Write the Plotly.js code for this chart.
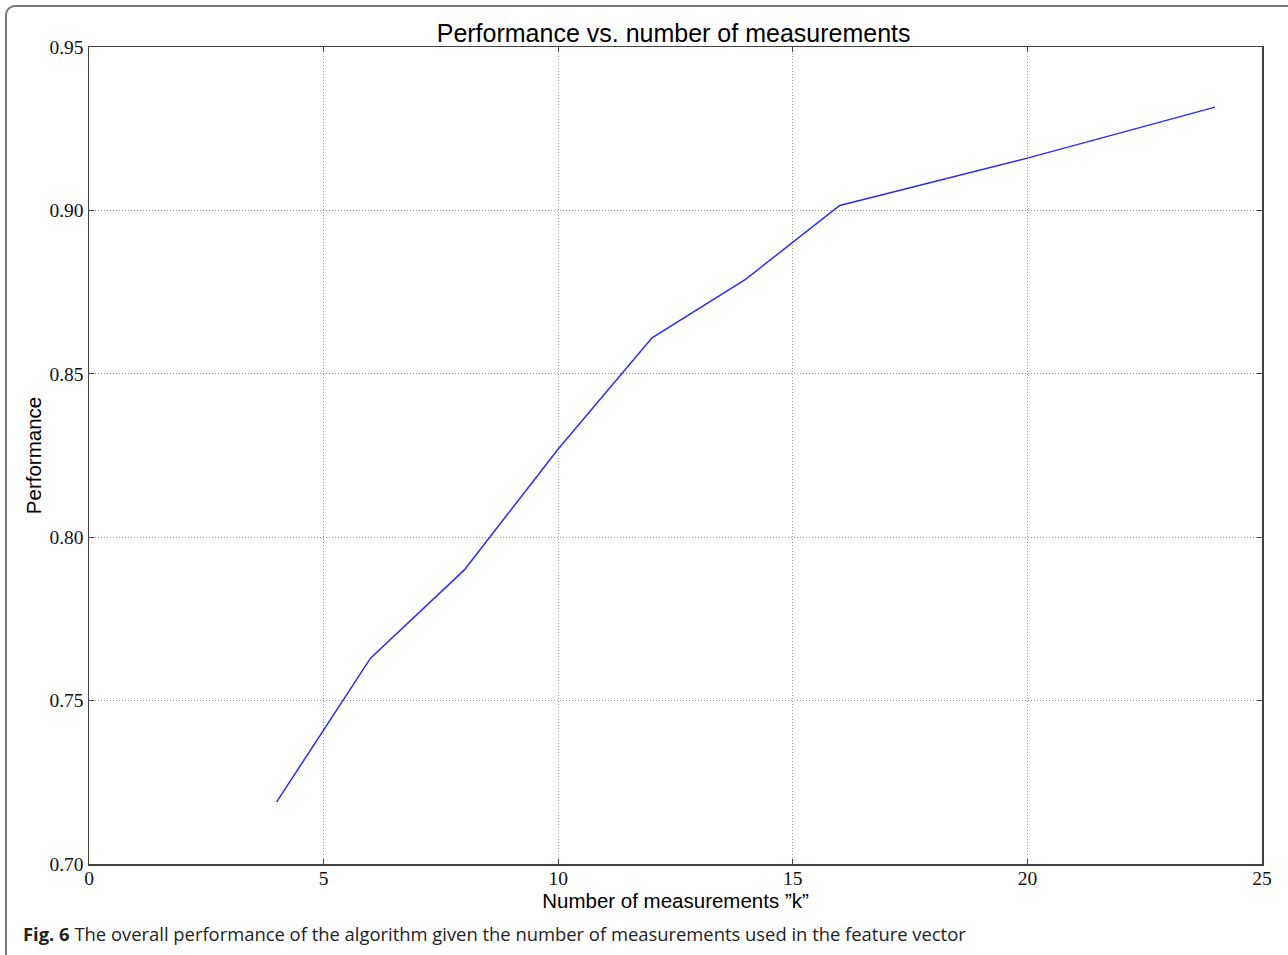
<!DOCTYPE html>
<html>
<head>
<meta charset="utf-8">
<script src="https://cdn.plot.ly/plotly-3.0.1.min.js"></script>
<style>
html,body{margin:0;padding:0;background:#fff;overflow:hidden;}
#frame{position:absolute;left:5px;top:5px;width:1400px;height:1100px;border:2px solid #777;border-radius:10px;box-sizing:border-box;}
#chart{position:absolute;left:0;top:0;width:1288px;height:955px;}
</style>
</head>
<body>
<div id="frame"></div>
<div id="chart"></div>
<script>
const kValues = [4, 6, 8, 10, 12, 14, 16, 20, 24];
const performance = [0.719, 0.763, 0.790, 0.827, 0.861, 0.879, 0.9015, 0.916, 0.9316];
const xTicks = [0, 5, 10, 15, 20, 25];
const yTicks = [0.70, 0.75, 0.80, 0.85, 0.90, 0.95];
const yTickText = yTicks.map(v => v.toFixed(2));

const trace = {
  x: kValues, y: performance, type: 'scatter', mode: 'lines',
  line: {color: '#2a2aff', width: 1.5}, hoverinfo: 'none'
};

const axisCommon = {
  showline: true, mirror: 'ticks', linecolor: '#444', linewidth: 1.5,
  ticks: 'inside', ticklen: 5, tickcolor: '#444',
  showgrid: true, gridcolor: '#999', griddash: '1px,2px', gridwidth: 1,
  zeroline: false,
  tickfont: {family: 'Liberation Serif, serif', size: 19.5, color: '#111'}
};

const layout = {
  width: 1288, height: 955,
  paper_bgcolor: 'rgba(0,0,0,0)', plot_bgcolor: '#fff',
  margin: {l: 89, r: 26, t: 47, b: 91},
  showlegend: false,
  title: {text: 'Performance vs. number of measurements', x: 0.523, xanchor: 'center', y: 0.965, yanchor: 'middle',
          font: {family: 'Liberation Sans, Arial, sans-serif', size: 25, color: '#000'}},
  xaxis: Object.assign({}, axisCommon, {
    range: [0, 25], tickvals: xTicks, ticktext: xTicks.map(String), ticklabelstandoff: -4,
    title: {text: 'Number of measurements \u201Dk\u201D', standoff: 4,
            font: {family: 'Liberation Sans, Arial, sans-serif', size: 20.5, color: '#000'}}
  }),
  yaxis: Object.assign({}, axisCommon, {
    range: [0.70, 0.95], tickvals: yTicks, ticktext: yTickText,
    title: {text: 'Performance', standoff: 2,
            font: {family: 'Liberation Sans, Arial, sans-serif', size: 20.5, color: '#000'}}
  }),
  annotations: [{
    xref: 'paper', yref: 'paper', x: -0.058, y: -0.0848, xanchor: 'left', yanchor: 'middle', showarrow: false,
    text: '<b>Fig. 6</b> The overall performance of the algorithm given the number of measurements used in the feature vector',
    font: {family: 'Open Sans, Noto Sans, sans-serif', size: 18.4, color: '#222'}
  }]
};

Plotly.newPlot('chart', [trace], layout, {displayModeBar: false, staticPlot: true});
</script>
</body>
</html>
